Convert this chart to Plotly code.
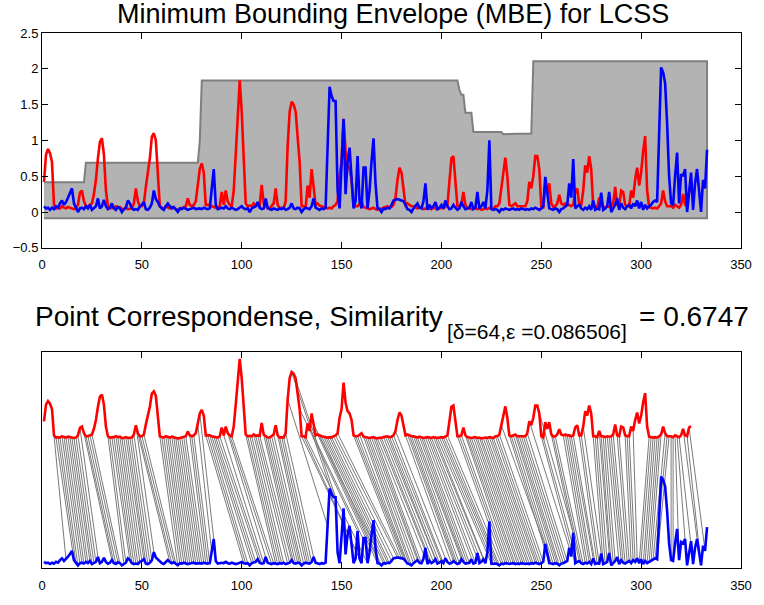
import numpy as np
import plotly.graph_objects as go

# ---------------- data ----------------
red = [
    0.42, 0.80, 0.88, 0.82, 0.70, 0.10, 0.05, 0.06, 0.05, 0.08,
    0.06, 0.05, 0.07, 0.06, 0.04, 0.04, 0.05, 0.10, 0.27, 0.30,
    0.15, 0.08, 0.08, 0.10, 0.12, 0.25, 0.45, 0.75, 0.98, 1.03,
    0.80, 0.30, 0.08, 0.05, 0.05, 0.06, 0.08, 0.06, 0.07, 0.04,
    0.04, 0.06, 0.04, 0.05, 0.05, 0.12, 0.33, 0.15, 0.08, 0.08,
    0.12, 0.35, 0.55, 0.75, 1.05, 1.10, 1.00, 0.55, 0.08, 0.06,
    0.05, 0.08, 0.06, 0.05, 0.07, 0.06, 0.04, 0.03, 0.04, 0.05,
    0.06, 0.08, 0.19, 0.10, 0.08, 0.10, 0.15, 0.35, 0.60, 0.68,
    0.55, 0.10, 0.10, 0.10, 0.08, 0.07, 0.05, 0.05, 0.08, 0.28,
    0.10, 0.30, 0.15, 0.10, 0.08, 0.30, 0.80, 1.40, 1.84, 1.40,
    0.70, 0.12, 0.08, 0.09, 0.08, 0.12, 0.09, 0.10, 0.09, 0.38,
    0.12, 0.08, 0.05, 0.05, 0.08, 0.12, 0.33, 0.10, 0.05, 0.06,
    0.05, 0.15, 0.92, 1.40, 1.54, 1.50, 1.40, 1.05, 0.70, 0.08,
    0.08, 0.06, 0.37, 0.20, 0.60, 0.35, 0.10, 0.12, 0.09, 0.08,
    0.07, 0.06, 0.05, 0.06, 0.05, 0.08, 0.10, 0.15, 0.50, 0.70,
    1.30, 0.85, 0.65, 0.60, 0.45, 0.10, 0.08, 0.08, 0.12, 0.15,
    0.07, 0.06, 0.05, 0.04, 0.05, 0.06, 0.04, 0.03, 0.05, 0.04,
    0.06, 0.07, 0.08, 0.06, 0.07, 0.10, 0.20, 0.45, 0.62, 0.55,
    0.30, 0.10, 0.12, 0.10, 0.08, 0.08, 0.06, 0.05, 0.07, 0.06,
    0.04, 0.05, 0.06, 0.05, 0.04, 0.06, 0.05, 0.04, 0.05, 0.06,
    0.05, 0.07, 0.10, 0.42, 0.75, 0.78, 0.46, 0.08, 0.08, 0.10,
    0.28, 0.10, 0.06, 0.05, 0.04, 0.05, 0.06, 0.04, 0.05, 0.03,
    0.04, 0.05, 0.04, 0.06, 0.05, 0.04, 0.08, 0.08, 0.12, 0.33,
    0.60, 0.76, 0.50, 0.10, 0.08, 0.10, 0.12, 0.08, 0.08, 0.08,
    0.08, 0.08, 0.15, 0.42, 0.33, 0.50, 0.78, 0.78, 0.60, 0.08,
    0.05, 0.40, 0.25, 0.40, 0.12, 0.07, 0.08, 0.12, 0.24, 0.12,
    0.10, 0.12, 0.10, 0.10, 0.08, 0.10, 0.28, 0.33, 0.10, 0.10,
    0.30, 0.65, 0.55, 0.78, 0.60, 0.08, 0.08, 0.06, 0.20, 0.08,
    0.08, 0.06, 0.08, 0.07, 0.08, 0.12, 0.35, 0.10, 0.08, 0.30,
    0.28, 0.10, 0.08, 0.08, 0.30, 0.20, 0.45, 0.62, 0.37, 0.55,
    0.85, 1.06, 0.30, 0.07, 0.06, 0.05, 0.06, 0.05, 0.08, 0.12,
    0.30, 0.15, 0.08, 0.08, 0.08, 0.06, 0.10, 0.08, 0.06, 0.10,
    0.25, 0.10, 0.08, 0.28, 0.31,
]

blue = [
    0.08, 0.05, 0.06, 0.03, 0.06, 0.04, 0.08, 0.06, 0.12, 0.16,
    0.10, 0.14, 0.20, 0.26, 0.33, 0.12, 0.05, 0.00, 0.05, 0.06,
    0.04, 0.08, 0.05, 0.10, 0.03, 0.05, 0.08, 0.19, 0.05, 0.08,
    0.17, 0.08, 0.04, 0.06, 0.12, 0.05, 0.03, 0.07, 0.05, 0.00,
    0.04, 0.06, 0.16, 0.12, 0.05, 0.03, 0.04, 0.03, 0.08, 0.10,
    0.14, 0.04, 0.03, 0.06, 0.12, 0.30, 0.18, 0.14, 0.08, 0.05,
    0.03, 0.08, 0.12, 0.08, 0.05, 0.07, 0.04, 0.00, 0.05, 0.04,
    0.06, 0.05, 0.03, 0.04, 0.05, 0.06, 0.04, 0.05, 0.05, 0.04,
    0.06, 0.05, 0.04, 0.05, 0.30, 0.60, 0.10, 0.04, 0.05, 0.06,
    0.05, 0.08, 0.05, 0.04, 0.06, 0.05, 0.03, 0.04, 0.06, 0.08,
    0.05, 0.04, 0.05, 0.00, 0.05, 0.06, 0.08, 0.14, 0.06, 0.04,
    0.05, 0.19, 0.06, 0.04, 0.03, 0.05, 0.04, 0.03, 0.05, 0.04,
    0.06, 0.03, 0.04, 0.06, 0.12, 0.05, 0.04, 0.06, 0.05, 0.00,
    0.04, 0.06, 0.05, 0.04, 0.08, 0.19, 0.06, 0.04, 0.03, 0.05,
    0.04, 0.06, 0.90, 1.75, 1.62, 1.55, 1.55, 0.30, 0.05, 0.60,
    1.30, 0.25, 0.70, 0.90, 0.50, 0.05, 0.15, 0.78, 0.15, 0.05,
    0.62, 0.62, 0.05, 0.30, 0.70, 1.03, 0.40, 0.05, 0.04, 0.00,
    0.05, 0.04, 0.06, 0.05, 0.10, 0.16, 0.17, 0.18, 0.17, 0.16,
    0.15, 0.10, 0.04, 0.03, 0.00, 0.05, 0.08, 0.12, 0.06, 0.05,
    0.15, 0.40, 0.03, 0.10, 0.05, 0.08, 0.14, 0.04, 0.06, 0.10,
    0.05, 0.16, 0.08, 0.04, 0.05, 0.10, 0.06, 0.03, 0.05, 0.14,
    0.08, 0.04, 0.05, 0.06, 0.14, 0.04, 0.06, 0.28, 0.05, 0.08,
    0.14, 0.05, 0.30, 1.00, 0.04, 0.03, 0.04, 0.03, 0.00, 0.04,
    0.03, 0.05, 0.04, 0.03, 0.04, 0.05, 0.03, 0.04, 0.03, 0.05,
    0.04, 0.03, 0.04, 0.03, 0.05, 0.04, 0.06, 0.04, 0.03, 0.05,
    0.08, 0.49, 0.30, 0.05, 0.04, 0.03, 0.05, 0.04, 0.00, 0.04,
    0.05, 0.08, 0.10, 0.40, 0.20, 0.74, 0.05, 0.08, 0.10, 0.05,
    0.03, 0.06, 0.04, 0.08, 0.03, 0.16, 0.03, 0.05, 0.04, 0.27,
    0.03, 0.05, 0.08, 0.28, 0.00, 0.05, 0.10, 0.19, 0.03, 0.12,
    0.06, 0.04, 0.08, 0.10, 0.05, 0.12, 0.08, 0.16, 0.05, 0.14,
    0.03, 0.10, 0.05, 0.08, 0.10, 0.14, 0.16, 0.14, 1.01, 2.02,
    1.95, 1.80, 1.24, 0.50, 0.12, 0.10, 0.50, 0.83, 0.12, 0.53,
    0.50, 0.60, 0.00, 0.30, 0.55, 0.03, 0.40, 0.60, 0.25, 0.00,
    0.45, 0.33, 0.87,
]

delta = 64
epsilon = 0.086506
similarity = 0.6747
red_offset = 2.86

title_top = "Minimum Bounding Envelope (MBE) for LCSS"
title_bottom_main = "Point Correspondense, Similarity"
title_bottom_sub = "[\u03b4=64,\u03b5 =0.086506]"
title_bottom_val = "= 0.6747"

x_ticks = [0, 50, 100, 150, 200, 250, 300, 350]
y_ticks_top = [-0.5, 0, 0.5, 1, 1.5, 2, 2.5]
y_tick_text_top = ["\u22120.5", "0", "0.5", "1", "1.5", "2", "2.5"]

# ---------------- derived quantities ----------------
r = np.array(red)
b = np.array(blue)
xr = np.arange(1, len(r) + 1)
xb = np.arange(1, len(b) + 1)

nb = len(b)
upper = np.array([b[max(0, i - delta):i + delta + 1].max() for i in range(nb)]) + epsilon
lower = np.array([b[max(0, i - delta):i + delta + 1].min() for i in range(nb)]) - epsilon

# LCSS dynamic programming for point correspondences
nr = len(r)
L = np.zeros((nr + 1, nb + 1), dtype=int)
for i in range(1, nr + 1):
    ri = r[i - 1]
    for j in range(1, nb + 1):
        if abs(i - j) <= delta and abs(ri - b[j - 1]) < epsilon:
            L[i, j] = L[i - 1, j - 1] + 1
        else:
            L[i, j] = L[i - 1, j] if L[i - 1, j] >= L[i, j - 1] else L[i, j - 1]
pairs = []
i, j = nr, nb
while i > 0 and j > 0:
    if abs(i - j) <= delta and abs(r[i - 1] - b[j - 1]) < epsilon:
        pairs.append((i - 1, j - 1))
        i -= 1
        j -= 1
    elif L[i - 1, j] >= L[i, j - 1]:
        i -= 1
    else:
        j -= 1

lx, ly = [], []
for (pi, pj) in pairs:
    lx += [xr[pi], xb[pj], None]
    ly += [r[pi] + red_offset, b[pj], None]

# ---------------- figure ----------------
FONT = "Liberation Sans, Arial, Helvetica, sans-serif"
fig = go.Figure()

env_x = np.concatenate([xb, xb[::-1]])
env_y = np.concatenate([upper, lower[::-1]])
fig.add_trace(go.Scatter(x=env_x, y=env_y, mode="lines", fill="toself",
                         fillcolor="#b3b3b3", line=dict(color="#7f7f7f", width=2),
                         xaxis="x", yaxis="y", hoverinfo="skip"))
fig.add_trace(go.Scatter(x=xr, y=r, mode="lines", line=dict(color="#ff0000", width=2.6),
                         xaxis="x", yaxis="y"))
fig.add_trace(go.Scatter(x=xb, y=b, mode="lines", line=dict(color="#0000ff", width=2.6),
                         xaxis="x", yaxis="y"))

fig.add_trace(go.Scatter(x=lx, y=ly, mode="lines", line=dict(color="#7a7a7a", width=1),
                         xaxis="x2", yaxis="y2", hoverinfo="skip"))
fig.add_trace(go.Scatter(x=xr, y=r + red_offset, mode="lines",
                         line=dict(color="#ff0000", width=2.6), xaxis="x2", yaxis="y2"))
fig.add_trace(go.Scatter(x=xb, y=b, mode="lines",
                         line=dict(color="#0000ff", width=2.6), xaxis="x2", yaxis="y2"))

axis_common = dict(showline=True, linecolor="black", linewidth=1, mirror="ticks",
                   ticks="inside", ticklen=6, tickcolor="black", showgrid=False,
                   zeroline=False, tickfont=dict(family=FONT, size=13, color="black"))

fig.update_layout(
    width=764, height=605,
    margin=dict(l=42, r=17, t=33, b=29),
    paper_bgcolor="white", plot_bgcolor="white",
    showlegend=False,
    xaxis=dict(domain=[0, 1], anchor="y", range=[0, 350], tickvals=x_ticks,
               ticklabelstandoff=5, **axis_common),
    yaxis=dict(domain=[0.5985, 1], anchor="x", range=[-0.5, 2.5], tickvals=y_ticks_top,
               ticktext=y_tick_text_top, **axis_common),
    xaxis2=dict(domain=[0, 1], anchor="y2", range=[0, 350], tickvals=x_ticks,
                ticklabelstandoff=5, **axis_common),
    yaxis2=dict(domain=[0, 0.4039], anchor="x2", range=[-0.06, 4.86], showline=True,
                linecolor="black", linewidth=1, mirror=True, ticks="", showticklabels=False,
                showgrid=False, zeroline=False),
)

H = 543.0
W = 705.0
def py(px):
    return (576.0 - px) / H
def pxx(px):
    return (px - 42.0) / W

fig.add_annotation(text=title_top, xref="paper", yref="paper", x=pxx(396), y=py(14),
                   xanchor="center", yanchor="middle", showarrow=False,
                   font=dict(family=FONT, size=27, color="black"))
fig.add_annotation(text=title_bottom_main, xref="paper", yref="paper", x=pxx(33), y=py(321),
                   xanchor="left", yanchor="middle", showarrow=False,
                   font=dict(family=FONT, size=28, color="black"))
fig.add_annotation(text=title_bottom_sub, xref="paper", yref="paper", x=pxx(448), y=py(336),
                   xanchor="left", yanchor="middle", showarrow=False,
                   font=dict(family=FONT, size=21, color="black"))
fig.add_annotation(text=title_bottom_val, xref="paper", yref="paper", x=pxx(757), y=py(321),
                   xanchor="right", yanchor="middle", showarrow=False,
                   font=dict(family=FONT, size=28, color="black"))

fig.write_html("out.html")
